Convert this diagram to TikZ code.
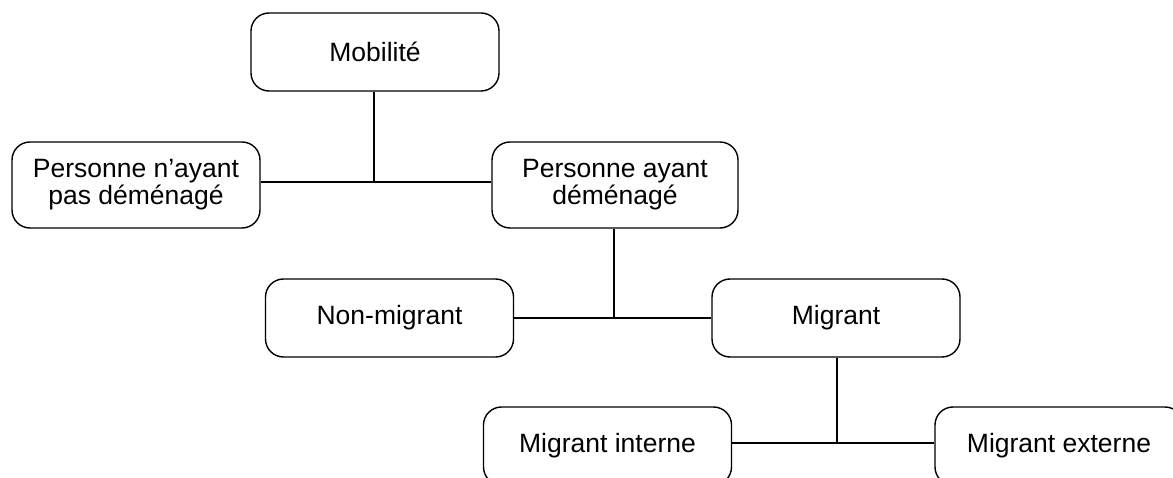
\documentclass[tikz,border=0pt]{standalone}
\usepackage{fontspec}
\setmainfont{Liberation Sans}
\begin{document}
\begin{tikzpicture}[x=1pt,y=-1pt,
  box/.style={draw=black, line width=1.4pt, rounded corners=18pt, align=center,
    minimum width=248pt, minimum height=78pt, inner sep=0pt,
    font=\fontsize{26.5}{27}\selectfont},
  tall/.style={minimum height=86pt},
  link/.style={draw=black, line width=1.4pt}]
\useasboundingbox (0,0) rectangle (1173,478);
\clip (0,0) rectangle (1173,478);
\node[box] (mob) at (375,52) {Mobilité};
\node[box,tall] (pn) at (136,185) {Personne n’ayant\\pas déménagé};
\node[box,tall,minimum width=246pt] (pa) at (615,185) {Personne ayant\\déménagé};
\node[box] (nm) at (389.5,318) {Non-migrant};
\node[box] (mig) at (836,318) {Migrant};
\node[box] (mi) at (607.5,446) {Migrant interne};
\node[box] (me) at (1059,446) {Migrant externe};
\coordinate (j1) at (374,182);
\coordinate (j2) at (614,318);
\coordinate (j3) at (837,443);
\draw[link] (mob.south -| j1) -- (j1);
\draw[link] (pn.east |- j1) -- (pa.west |- j1);
\draw[link] (pa.south -| j2) -- (j2);
\draw[link] (nm.east |- j2) -- (mig.west |- j2);
\draw[link] (mig.south -| j3) -- (j3);
\draw[link] (mi.east |- j3) -- (me.west |- j3);
\end{tikzpicture}
\end{document}
